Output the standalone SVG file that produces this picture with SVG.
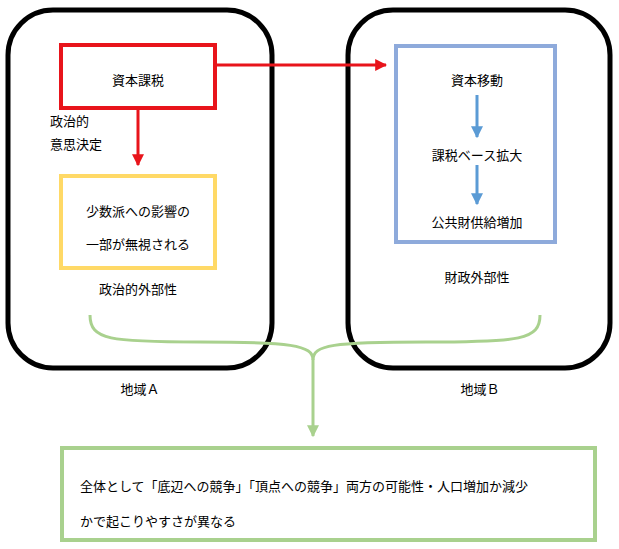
<svg xmlns="http://www.w3.org/2000/svg" width="619" height="549" viewBox="0 0 619 549">
<style>
text{font-family:"Noto Sans CJK JP","Noto Sans",sans-serif;font-size:13px;fill:#000}
.m{text-anchor:middle}
.region{fill:#fff;stroke:#000;stroke-width:5}
</style>
<defs>
<marker id="ar" viewBox="0 0 10 10" refX="9" refY="5" markerWidth="4" markerHeight="4" orient="auto"><path d="M0,0L10,5L0,10z" fill="#e8141b"/></marker>
<marker id="ab" viewBox="0 0 10 10" refX="9" refY="5" markerWidth="4" markerHeight="4" orient="auto"><path d="M0,0L10,5L0,10z" fill="#5b9bd5"/></marker>
<marker id="ag" viewBox="0 0 10 10" refX="9" refY="5" markerWidth="4" markerHeight="4" orient="auto"><path d="M0,0L10,5L0,10z" fill="#a9d18e"/></marker>
</defs>
<rect width="619" height="549" fill="#fff"/>
<g id="regionA"><rect class="region" x="8" y="10" width="264" height="358" rx="45"/><text class="m" x="140" y="394">地域Ａ</text></g>
<g id="regionB"><rect class="region" x="348" y="10" width="262" height="358" rx="45"/><text class="m" x="480" y="394">地域Ｂ</text></g>
<g id="tax"><rect x="61" y="45" width="154" height="63" fill="#fff" stroke="#e8141b" stroke-width="4"/><text class="m" x="138" y="85">資本課税</text></g>
<g id="decision"><text x="50" y="126">政治的</text><text x="50" y="149">意思決定</text></g>
<g id="minority"><rect x="61" y="176" width="154" height="92" fill="#fff" stroke="#ffd966" stroke-width="4"/><text class="m" x="138" y="216">少数派への影響の</text><text class="m" x="138" y="249">一部が無視される</text><text class="m" x="138" y="294">政治的外部性</text></g>
<g id="fiscal"><rect x="396" y="46" width="159" height="196" fill="#fff" stroke="#8eaadb" stroke-width="4"/><text class="m" x="477" y="85">資本移動</text><text class="m" x="477" y="160">課税ベース拡大</text><text class="m" x="477" y="227">公共財供給増加</text><text class="m" x="477" y="282">財政外部性</text></g>
<g id="result"><rect x="62" y="448" width="533" height="92" fill="#fff" stroke="#a9d18e" stroke-width="4"/><text x="80" y="491">全体として「底辺への競争」「頂点への競争」両方の可能性・人口増加か減少</text><text x="80" y="526">かで起こりやすさが異なる</text></g>
<g id="connectors" fill="none">
<path d="M215,65H386" stroke="#e8141b" stroke-width="3" marker-end="url(#ar)"/>
<path d="M138,108V165" stroke="#e8141b" stroke-width="3" marker-end="url(#ar)"/>
<path d="M477,95V137" stroke="#5b9bd5" stroke-width="3" marker-end="url(#ab)"/>
<path d="M477,165V204" stroke="#5b9bd5" stroke-width="3" marker-end="url(#ab)"/>
<path d="M540,315C540,340 520,342 426,342S313,345 313,360" stroke="#a9d18e" stroke-width="3"/>
<path d="M90,315C90,340 110,342 200,342S313,345 313,360V436" stroke="#a9d18e" stroke-width="3" marker-end="url(#ag)"/>
</g>
</svg>
